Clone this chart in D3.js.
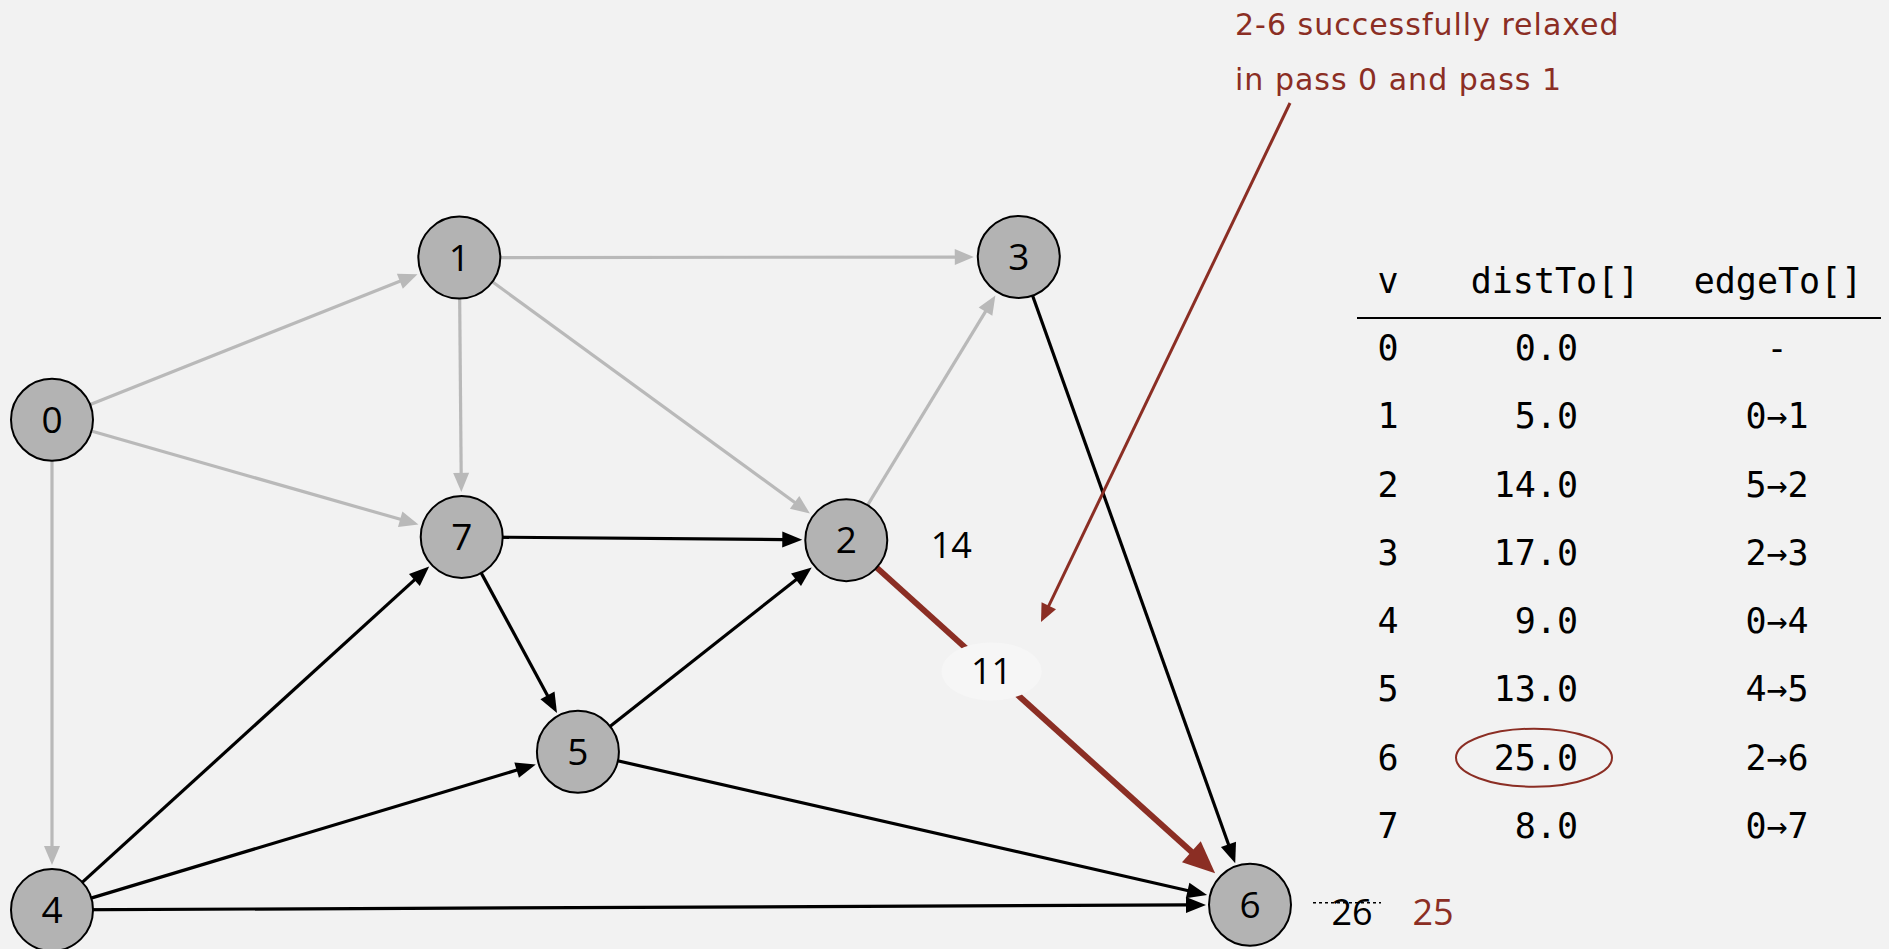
<!DOCTYPE html>
<html>
<head>
<meta charset="utf-8">
<script src="https://cdn.jsdelivr.net/npm/d3@7"></script>
<style>
  html, body { margin: 0; padding: 0; background: #f2f2f2; }
  svg { display: block; }
</style>
</head>
<body>
<script>

var w = 1889;
var h = 949;

// graph: vertices and their layout (abstract grid units 0..100)
var vertices = [0, 1, 2, 3, 4, 5, 6, 7];
var layoutX = [0, 34.0, 66.3, 80.7, 0, 43.9, 100, 34.2];
var layoutY = [25.3, 0.4, 43.8, 0.3, 100.6, 76.3, 99.8, 43.3];

// edges: [from, to]; grey = already scanned, black = on the tree / queued, red = just relaxed
var greyEdges = [[0, 1], [0, 7], [0, 4], [1, 3], [1, 7], [1, 2], [2, 3]];
var blackEdges = [[7, 2], [7, 5], [5, 2], [4, 7], [4, 5], [4, 6], [5, 6], [3, 6]];
var redEdges = [[2, 6]];

var relaxWeight = "11";
var distLabel = { v: 2, text: "14" };
var oldDist = "26";
var newDist = "25";

// table
var tableHeaders = ["v", "distTo[]", "edgeTo[]"];
var distTo = ["0.0", "5.0", "14.0", "17.0", "9.0", "13.0", "25.0", "8.0"];
var edgeTo = ["-", "0\u21921", "5\u21922", "2\u21923", "0\u21924", "4\u21925", "2\u21926", "0\u21927"];
var highlightRow = 6;

var note = ["2-6 successfully relaxed", "in pass 0 and pass 1"];

var red = "#8b2e24";
var grey = "#b9b9b9";
var r = 41;
var labelFont = "Open Sans";

var svg = d3.select("body")
    .append("svg")
    .attr("width", w)
    .attr("height", h);

svg.append("rect")
    .attr("width", w)
    .attr("height", h)
    .attr("fill", "#f2f2f2");

var xScale = d3.scaleLinear().domain([0, 100]).range([52, 1250]);
var yScale = d3.scaleLinear().domain([0, 100]).range([255, 906]);

function px(v) { return xScale(layoutX[v]); }
function py(v) { return yScale(layoutY[v]); }

var edgeG = svg.append("g");

function drawEdges(list, color, width, headLen, headW, gap) {
    list.forEach(function (e) {
        var x1 = px(e[0]), y1 = py(e[0]);
        var x2 = px(e[1]), y2 = py(e[1]);
        var dx = x2 - x1, dy = y2 - y1;
        var len = Math.sqrt(dx * dx + dy * dy);
        var ux = dx / len, uy = dy / len;
        var tipX = x2 - ux * (r + gap), tipY = y2 - uy * (r + gap);
        var bx = tipX - ux * headLen, by = tipY - uy * headLen;
        edgeG.append("line")
            .attr("x1", x1).attr("y1", y1)
            .attr("x2", bx + ux * 2).attr("y2", by + uy * 2)
            .attr("stroke", color)
            .attr("stroke-width", width);
        edgeG.append("path")
            .attr("d", "M" + tipX + "," + tipY +
                "L" + (bx - uy * headW / 2) + "," + (by + ux * headW / 2) +
                "L" + (bx + uy * headW / 2) + "," + (by - ux * headW / 2) + "Z")
            .attr("fill", color);
    });
}

drawEdges(greyEdges, grey, 3.2, 19, 16, 4);
drawEdges(blackEdges, "#000", 3.2, 20, 16, 3);
drawEdges(redEdges, red, 6, 32, 28, 6);

// weight label on the relaxed edge
var re = redEdges[0];
var t = 0.36;
var lx = px(re[0]) + (px(re[1]) - px(re[0])) * t;
var ly = py(re[0]) + (py(re[1]) - py(re[0])) * t;
svg.append("ellipse")
    .attr("cx", lx).attr("cy", ly)
    .attr("rx", 50).attr("ry", 29)
    .attr("fill", "#f6f6f6");
svg.append("text")
    .attr("x", lx).attr("y", ly)
    .attr("dy", "0.36em")
    .attr("text-anchor", "middle")
    .attr("font-family", labelFont)
    .attr("font-size", 36)
    .text(relaxWeight);

// nodes
var nodes = svg.selectAll("g.node")
    .data(vertices)
    .enter()
    .append("g")
    .attr("class", "node")
    .attr("transform", function (d) { return "translate(" + px(d) + "," + py(d) + ")"; });

nodes.append("circle")
    .attr("r", r)
    .attr("fill", "#b3b3b3")
    .attr("stroke", "#000")
    .attr("stroke-width", 2);

nodes.append("text")
    .attr("dy", "0.36em")
    .attr("text-anchor", "middle")
    .attr("font-family", labelFont)
    .attr("font-size", 37)
    .text(function (d) { return d; });

// dist label next to vertex 2
svg.append("text")
    .attr("x", px(distLabel.v) + 105)
    .attr("y", py(distLabel.v) + 5)
    .attr("dy", "0.36em")
    .attr("text-anchor", "middle")
    .attr("font-family", labelFont)
    .attr("font-size", 36)
    .text(distLabel.text);

// old / new distance next to vertex 6
var v6x = px(6), v6y = py(6);
svg.append("text")
    .attr("x", v6x + 102)
    .attr("y", v6y + 20)
    .attr("text-anchor", "middle")
    .attr("font-family", labelFont)
    .attr("font-size", 36)
    .text(oldDist);
svg.append("line")
    .attr("x1", v6x + 63).attr("x2", v6x + 131)
    .attr("y1", v6y - 2).attr("y2", v6y - 2)
    .attr("stroke", "#000")
    .attr("stroke-width", 1.5)
    .attr("stroke-dasharray", "3,3");
svg.append("text")
    .attr("x", v6x + 183)
    .attr("y", v6y + 20)
    .attr("text-anchor", "middle")
    .attr("font-family", labelFont)
    .attr("font-size", 36)
    .attr("fill", red)
    .text(newDist);

// annotation text and arrow
svg.selectAll("text.note")
    .data(note)
    .enter()
    .append("text")
    .attr("class", "note")
    .attr("x", 1235)
    .attr("y", function (d, i) { return 35 + i * 55; })
    .attr("font-family", "DejaVu Sans")
    .attr("font-size", 30)
    .attr("letter-spacing", 1)
    .attr("fill", red)
    .text(function (d) { return d; });

var ax1 = 1290, ay1 = 103, ax2 = 1041, ay2 = 622;
var adx = ax2 - ax1, ady = ay2 - ay1;
var alen = Math.sqrt(adx * adx + ady * ady);
var aux = adx / alen, auy = ady / alen;
var abx = ax2 - aux * 18, aby = ay2 - auy * 18;
svg.append("line")
    .attr("x1", ax1).attr("y1", ay1)
    .attr("x2", abx + aux * 2).attr("y2", aby + auy * 2)
    .attr("stroke", red)
    .attr("stroke-width", 3);
svg.append("path")
    .attr("d", "M" + ax2 + "," + ay2 +
        "L" + (abx - auy * 8) + "," + (aby + aux * 8) +
        "L" + (abx + auy * 8) + "," + (aby - aux * 8) + "Z")
    .attr("fill", red);

// table
var colX = [1388, 1578, 1777];
var rowY = d3.scalePoint().domain(vertices).range([360, 838]);
var mono = "DejaVu Sans Mono";

var table = svg.append("g").attr("font-family", mono).attr("font-size", 35);

table.selectAll("text.head")
    .data(tableHeaders)
    .enter()
    .append("text")
    .attr("class", "head")
    .attr("x", function (d, i) { return [1388, 1555, 1778][i]; })
    .attr("y", 293)
    .attr("text-anchor", "middle")
    .text(function (d) { return d; });

table.append("line")
    .attr("x1", 1357).attr("x2", 1881)
    .attr("y1", 318).attr("y2", 318)
    .attr("stroke", "#000")
    .attr("stroke-width", 2);

var rows = table.selectAll("g.row")
    .data(vertices)
    .enter()
    .append("g")
    .attr("class", "row")
    .attr("transform", function (d) { return "translate(0," + rowY(d) + ")"; });

rows.append("text")
    .attr("x", colX[0])
    .attr("text-anchor", "middle")
    .text(function (d) { return d; });

rows.append("text")
    .attr("x", colX[1])
    .attr("text-anchor", "end")
    .text(function (d) { return distTo[d]; });

rows.append("text")
    .attr("x", colX[2])
    .attr("text-anchor", "middle")
    .text(function (d) { return edgeTo[d]; });

table.append("ellipse")
    .attr("cx", 1534)
    .attr("cy", rowY(highlightRow) - 12)
    .attr("rx", 78)
    .attr("ry", 29)
    .attr("fill", "none")
    .attr("stroke", red)
    .attr("stroke-width", 2);

</script>
</body>
</html>
